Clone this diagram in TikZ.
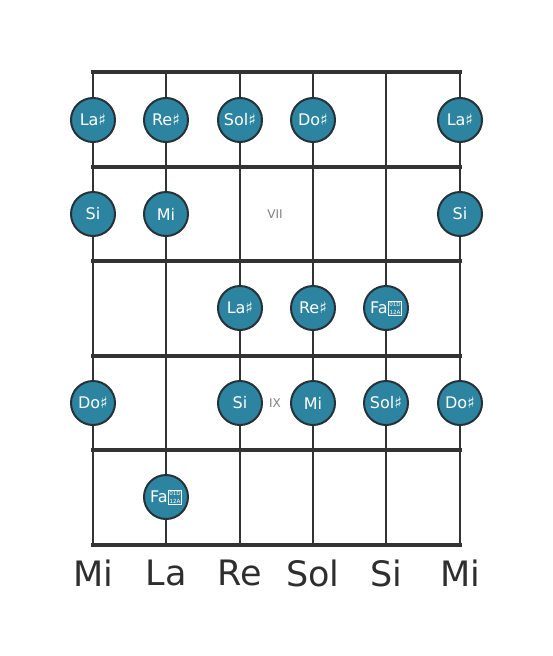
\documentclass[tikz,border=0pt]{standalone}
\usepackage{fontspec}
\setmainfont{DejaVu Sans}
\begin{document}
\begin{tikzpicture}[x=1pt,y=-1pt,
  fret/.style={draw=linegray,line width=4.2pt},
  stringline/.style={draw=linegray,line width=2.8pt},
  dot/.style={circle,draw=dotborder,line width=2pt,fill=dotfill,minimum size=44pt,inner sep=0pt,text=white,font=\fontsize{16}{16}\selectfont},
  roman/.style={text=gray,font=\fontsize{12}{12}\selectfont},
  openlabel/.style={text=labelgray,font=\fontsize{35}{35}\selectfont}]
\definecolor{linegray}{HTML}{333333}
\definecolor{dotfill}{HTML}{2C84A0}
\definecolor{dotborder}{HTML}{253238}
\definecolor{labelgray}{HTML}{2E2E2E}
\newcommand{\dsh}{{\setlength{\fboxsep}{0.6pt}\setlength{\fboxrule}{0.5pt}\hspace{0.6pt}\raisebox{-0.6pt}{\fbox{\fontsize{5.6}{5.6}\selectfont\shortstack{01D\\[0.8pt]12A}}}}}
\useasboundingbox (0,0) rectangle (553,656);
% strings
\foreach \x/\n in {93/s1,166/s2,240/s3,313/s4,386/s5,460/s6}{
  \coordinate (\n t) at (\x,72); \coordinate (\n b) at (\x,545);
  \draw[stringline] (\n t) -- (\n b);}
% frets
\foreach \y/\n in {72/f0,167/f1,261/f2,356/f3,450/f4,545/f5}{
  \coordinate (\n l) at (93,\y); \coordinate (\n r) at (460,\y);
  \draw[fret,line cap=rect] (\n l) -- (\n r);}
% position markers
\node[roman] (vii) at (275,214) {VII};
\node[roman] (ix) at (275,403) {IX};
% dots
\node[dot] (a1) at (93,120) {La♯};
\node[dot] (a2) at (166,120) {Re♯};
\node[dot] (a3) at (240,120) {Sol♯};
\node[dot] (a4) at (313,120) {Do♯};
\node[dot] (a6) at (460,120) {La♯};
\node[dot] (b1) at (93,214) {Si};
\node[dot] (b2) at (166,214) {Mi};
\node[dot] (b6) at (460,214) {Si};
\node[dot] (c3) at (240,308) {La♯};
\node[dot] (c4) at (313,308) {Re♯};
\node[dot] (c5) at (386,308) {Fa\dsh};
\node[dot] (d1) at (93,403) {Do♯};
\node[dot] (d3) at (240,403) {Si};
\node[dot] (d4) at (313,403) {Mi};
\node[dot] (d5) at (386,403) {Sol♯};
\node[dot] (d6) at (460,403) {Do♯};
\node[dot] (e2) at (166,497) {Fa\dsh};
% open string names
\node[openlabel] (o1) at (93,573) {Mi};
\node[openlabel] (o2) at (166,573) {La};
\node[openlabel] (o3) at (240,573) {Re};
\node[openlabel] (o4) at (313,573) {Sol};
\node[openlabel] (o5) at (386,573) {Si};
\node[openlabel] (o6) at (460,573) {Mi};
\end{tikzpicture}
\end{document}
